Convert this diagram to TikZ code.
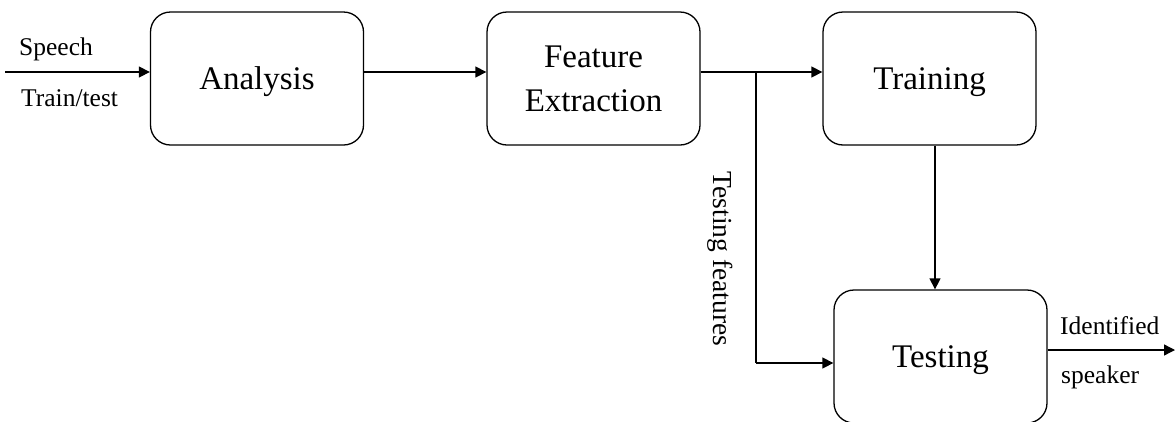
\documentclass[tikz,border=0pt]{standalone}
\usepackage{fontspec}
\setmainfont{Liberation Serif}
\usetikzlibrary{arrows.meta}
\begin{document}
\begin{tikzpicture}[x=1pt,y=-1pt,
  blk/.style={draw,line width=1.3pt,rounded corners=20pt,minimum width=213pt,minimum height=133pt,inner sep=0pt,text depth=0pt,align=center,font=\fontsize{33}{44}\selectfont},
  lbl/.style={inner sep=0pt,font=\fontsize{25.5}{30}\selectfont},
  conn/.style={line width=1.3pt,-{Triangle[length=11pt,width=11pt]}},
  plain/.style={line width=1.3pt}]
\useasboundingbox (0,0) rectangle (1175,421);
\node[blk] (an) at (257,78.5) {Analysis};
\node[blk] (fe) at (593.5,78.5) {Feature\\Extraction};
\node[blk] (tr) at (929.5,78.5) {Training};
\node[blk] (te) at (940.5,356.5) {Testing};
\coordinate (in) at (5,72);
\coordinate (br) at (756,72);
\coordinate (bend) at (756,363);
\coordinate (tcol) at (935,0);
\coordinate (out) at (1175,350);
\draw[conn] (in) -- (an.west |- in);
\draw[conn] (an.east |- in) -- (fe.west |- in);
\draw[conn] (fe.east |- in) -- (tr.west |- in);
\draw[plain] (br) -- (bend);
\draw[conn] (bend) -- (te.west |- bend);
\draw[conn] (tr.south -| tcol) -- (te.north -| tcol);
\draw[conn] (te.east |- out) -- (out);
\node[lbl,anchor=base west] (sp) at (19,55) {Speech};
\node[lbl,anchor=base west] (tt) at (21,106) {Train/test};
\node[lbl,anchor=base west] (idf) at (1060,334) {Identified};
\node[lbl,anchor=base west] (spk) at (1061,383) {speaker};
\node[lbl,rotate=-90,font=\fontsize{27.5}{30}\selectfont] (tf) at (720,259) {Testing features};
\end{tikzpicture}
\end{document}
